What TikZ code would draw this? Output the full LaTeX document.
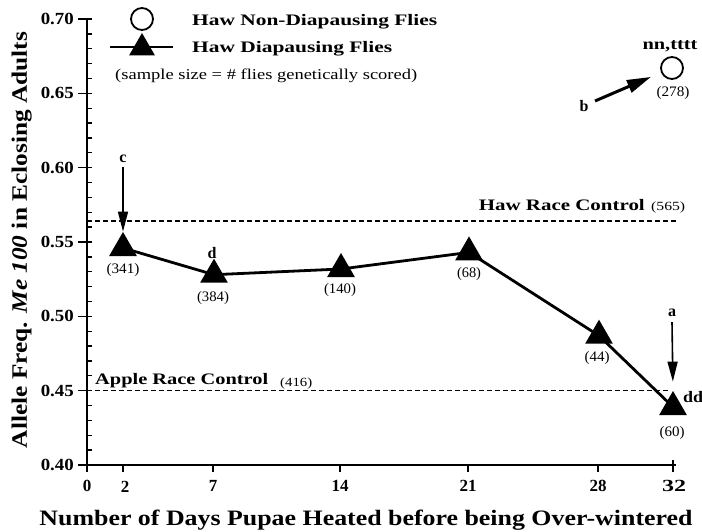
\documentclass[tikz,border=0pt]{standalone}
\usepackage{fontspec}
\setmainfont{Liberation Serif}
\usetikzlibrary{arrows.meta,shapes.geometric}
\newcommand\fitw[2]{\resizebox{#1}{\height}{#2}}
\begin{document}
\begin{tikzpicture}[x=1pt,y=-1pt,
  bf/.style={font=\fontsize{16}{18}\selectfont\bfseries, inner sep=0pt},
  tk/.style={font=\fontsize{17}{19}\selectfont\bfseries, inner sep=0pt},
  ttl/.style={font=\fontsize{22}{24}\selectfont\bfseries, inner sep=0pt},
  num/.style={font=\fontsize{14.5}{16}\selectfont, inner sep=0pt},
  tri/.style={regular polygon, regular polygon sides=3, fill=black, minimum size=32pt, inner sep=0pt},
  opn/.style={circle, draw=black, line width=1.8pt, minimum size=22pt, inner sep=0pt},
  ctl/.style={line width=1.1pt, dash pattern=on 5pt off 3pt},
  dline/.style={line width=2.8pt},
  axis/.style={line width=1.8pt},
  arr/.style={line width=1.6pt, -{Triangle[width=10pt,length=20pt]}},
  arrb/.style={line width=3pt, -{Triangle[width=13pt,length=24pt]}}]
\useasboundingbox (0,0) rectangle (702,532);
\fill[white] (0,0) rectangle (702,532);

% axes
\coordinate (O) at (87,465);
\coordinate (Yt) at (87,19);
\coordinate (Xr) at (676,465);
\draw[axis] (Yt) -- (O) -- (Xr);
% y ticks
\foreach \i in {0,...,30} \draw[line width=1.3pt] (87,{465-\i*14.867}) -- ++(5,0);
\foreach \i in {0,5,...,30} \draw[line width=1.6pt] (87,{465-\i*14.867}) -- ++(-9,0);
% y tick labels
\node[tk, anchor=east] (y70) at (74,19) {\fitw{33pt}{0.70}};
\node[tk, anchor=east] (y65) at (74,93.3) {\fitw{33pt}{0.65}};
\node[tk, anchor=east] (y60) at (74,167.7) {\fitw{33pt}{0.60}};
\node[tk, anchor=east] (y55) at (74,242) {\fitw{33pt}{0.55}};
\node[tk, anchor=east] (y50) at (74,316.3) {\fitw{33pt}{0.50}};
\node[tk, anchor=east] (y45) at (74,390.7) {\fitw{33pt}{0.45}};
\node[tk, anchor=east] (y40) at (74,465) {\fitw{33pt}{0.40}};
% x ticks
\foreach \x in {87,123,213,340,468,598,673} \draw[line width=1.6pt] (\x,465) -- ++(0,7);
\draw[line width=1.3pt] (673,465) -- ++(0,-5);
\node[tk] (x0) at (87,486) {0};
\node[tk] (x2) at (125,487) {2};
\node[tk] (x7) at (213,486) {7};
\node[tk] (x14) at (340,486) {14};
\node[tk] (x21) at (468,486) {21};
\node[tk] (x28) at (598,486) {28};
\node[tk] (x32) at (674,486) {\fitw{24pt}{32}};
% axis titles
\node[ttl, anchor=base] (xt) at (366,525) {\fitw{653pt}{Number of Days Pupae Heated before being Over-wintered}};
\node[ttl, anchor=base, rotate=90] (yt) at (27,240) {\fitw{416pt}{Allele Freq. \textit{Me 100} in Eclosing Adults}};

% control lines
\coordinate (hL) at (87,221);
\coordinate (hR) at (677,221);
\coordinate (aL) at (87,390.7);
\coordinate (aR) at (670,390.7);
\draw[ctl] (hL) -- (hR);
\draw[ctl] (aL) -- (aR);
\node[bf, anchor=base east] (hct) at (645,211) {\fitw{166pt}{Haw Race Control}};
\node[num, anchor=base west, font=\fontsize{12.5}{14}\selectfont] (hcn) at (651,211) {\fitw{34pt}{(565)}};
\node[bf, anchor=base west] (act) at (95,384) {\fitw{173pt}{Apple Race Control}};
\node[num, anchor=base west, font=\fontsize{12.5}{14}\selectfont] (acn) at (280,386) {\fitw{32pt}{(416)}};

% legend
\node[opn] (legc) at (142,19) {};
\coordinate (legL) at (110,47);
\coordinate (legR) at (173,47);
\draw[dline] (legL) -- (legR);
\node[tri, minimum size=30pt] (legt) at (142,48) {};
\node[bf, anchor=base west] (l1) at (192,26) {\fitw{245pt}{Haw Non-Diapausing Flies}};
\node[bf, anchor=base west] (l2) at (192,53) {\fitw{200pt}{Haw Diapausing Flies}};
\node[num, anchor=base west, font=\fontsize{15}{17}\selectfont] (l3) at (115,80) {\fitw{302pt}{(sample size = \# flies genetically scored)}};

% data
\coordinate (d2) at (123,248);
\coordinate (d7) at (214,274.7);
\coordinate (d14) at (341,269);
\coordinate (d21) at (469,252.4);
\coordinate (d28) at (599,335.7);
\coordinate (d32) at (673,407);
\draw[dline, line join=round] (d2) -- (d7) -- (d14) -- (d21) -- (d28) -- (d32);
\node[tri] (t2) at (d2) {};
\node[tri] (t7) at (d7) {};
\node[tri] (t14) at (d14) {};
\node[tri] (t21) at (d21) {};
\node[tri] (t28) at (d28) {};
\node[tri] (t32) at (d32) {};
\node[opn] (c32) at (672,68) {};

% sample sizes
\node[num] (n2) at (123,270) {\fitw{33pt}{(341)}};
\node[num] (n7) at (213,298) {\fitw{32pt}{(384)}};
\node[num] (n14) at (340,290) {\fitw{32pt}{(140)}};
\node[num] (n21) at (469,274) {\fitw{24pt}{(68)}};
\node[num] (n28) at (597,358) {\fitw{25pt}{(44)}};
\node[num] (n32) at (672,433) {\fitw{25pt}{(60)}};
\node[num] (nc) at (673,93) {\fitw{33pt}{(278)}};

% letters
\node[bf] (lc) at (123,159) {c};
\node[bf] (ld) at (212,253) {d};
\node[bf] (la) at (672,313) {a};
\node[bf] (lb) at (584,106) {b};
\node[bf] (ldd) at (693,397) {\fitw{20pt}{dd}};
\node[bf] (lnn) at (670,46) {\fitw{55pt}{nn,tttt}};

% arrows
\draw[arr] (lc.south) ++(0,4) -- (t2.north);
\draw[arr, shorten >=9pt] (la.south) ++(0,5) -- (t32.north);
\coordinate (bs) at (595,101);
\draw[arrb, shorten >=10pt] (bs) -- (c32.west |- 0,73);
\end{tikzpicture}
\end{document}
